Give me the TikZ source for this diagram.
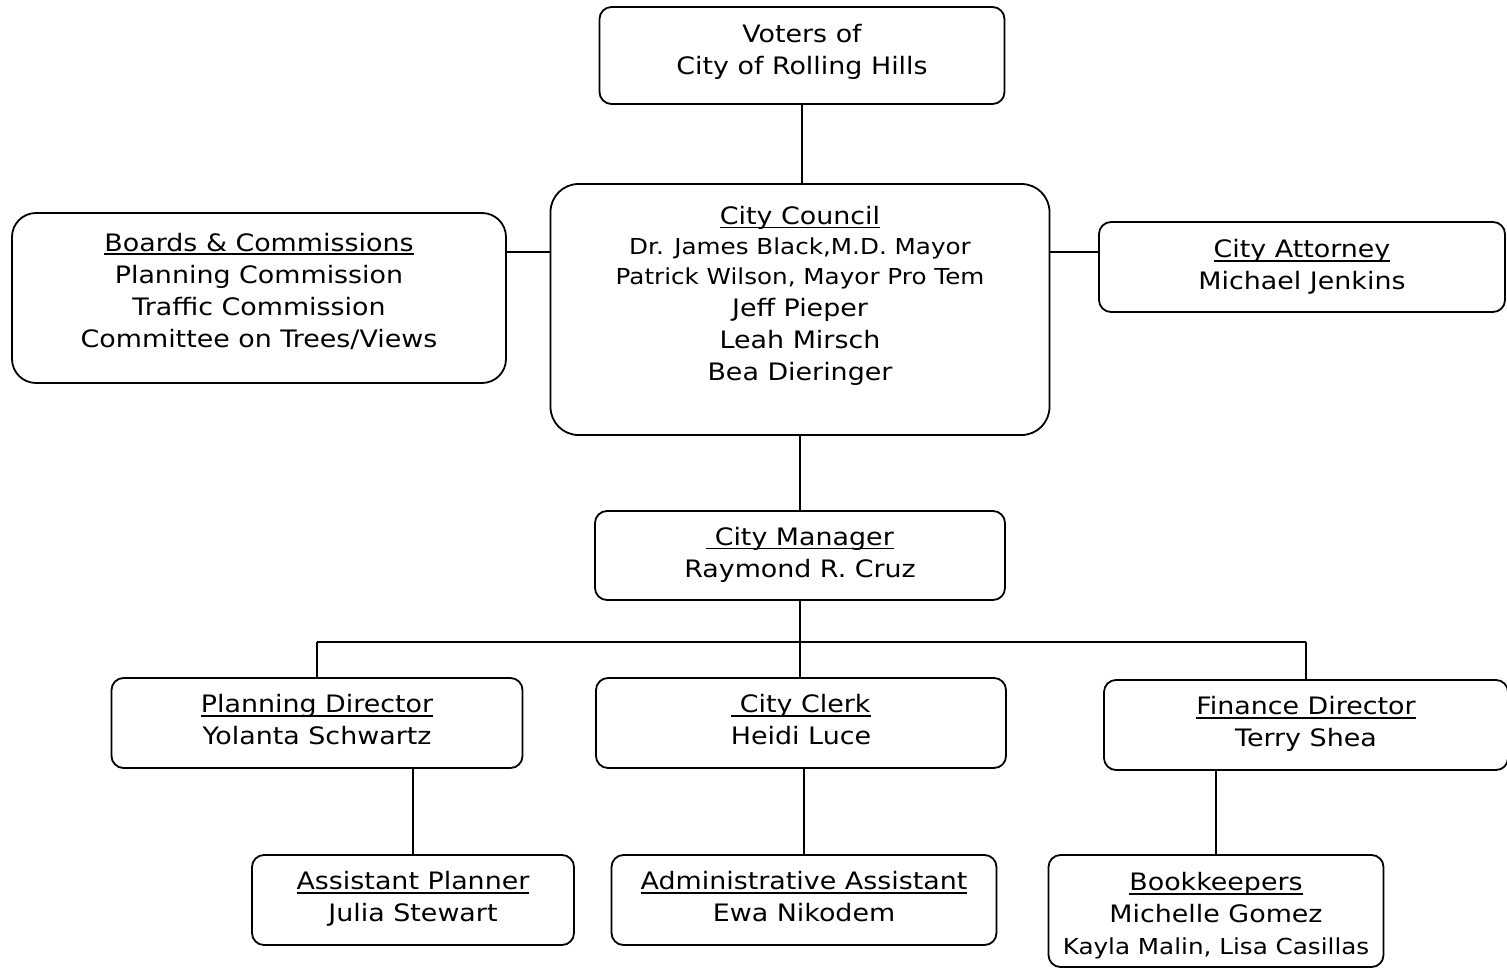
\documentclass[tikz,border=0pt]{standalone}
\usepackage{fontspec}
\setmainfont{DejaVu Sans}[FakeStretch=1.12]
\usetikzlibrary{positioning}

\newsavebox\headbox
\newcommand\headul[1]{\sbox\headbox{#1}\rlap{\rule[-4pt]{\wd\headbox}{1.6pt}}\usebox\headbox}

\begin{document}
\begin{tikzpicture}[x=1pt, y=-1pt,
    box/.style={draw, line width=1.8pt, rounded corners=12pt, inner sep=0pt},
    txt/.style={align=center, inner sep=0pt, font=\fontsize{24}{32}\selectfont},
    link/.style={line width=2.2pt}]
\useasboundingbox (0,0) rectangle (1507,969);

% boxes
\node[box, minimum width=405pt, minimum height=97pt] (voters) at (802,55.5) {};
\node[box, rounded corners=28pt, minimum width=499pt, minimum height=251pt] (council) at (800,309.5) {};
\node[box, rounded corners=24pt, minimum width=494pt, minimum height=170pt] (boards) at (259,298) {};
\node[box, minimum width=406pt, minimum height=90pt] (attorney) at (1302,267) {};
\node[box, minimum width=410pt, minimum height=89pt] (manager) at (800,555.5) {};
\node[box, minimum width=411pt, minimum height=90pt] (planning) at (317,723) {};
\node[box, minimum width=410pt, minimum height=90pt] (clerk) at (801,723) {};
\node[box, minimum width=404pt, minimum height=90pt] (finance) at (1306,725) {};
\node[box, minimum width=322pt, minimum height=90pt] (asstplanner) at (413,900) {};
\node[box, minimum width=385pt, minimum height=90pt] (adminasst) at (804,900) {};
\node[box, minimum width=335pt, minimum height=112pt] (bookkeepers) at (1216,911) {};

% texts
\node[txt] (voters-t) at ([yshift=4pt]voters.center) {Voters of\\City of Rolling Hills};
\node[txt] (council-t) at ([yshift=14pt]council.center) {\headul{City Council}\\[-2pt]
    {\fontsize{22}{30}\selectfont Dr. James Black,M.D. Mayor}\\[-2pt]
    {\fontsize{22}{30}\selectfont Patrick Wilson, Mayor Pro Tem}\\
    Jeff Pieper\\Leah Mirsch\\Bea Dieringer};
\node[txt] (boards-t) at ([yshift=7pt]boards.center) {\headul{Boards \& Commissions}\\Planning Commission\\Traffic Commission\\Committee on Trees/Views};
\node[txt] (attorney-t) at ([yshift=0pt]attorney.center) {\headul{City Attorney}\\Michael Jenkins};
\node[txt] (manager-t) at ([yshift=1pt]manager.center) {\headul{\ City Manager}\\Raymond R. Cruz};
\node[txt] (planning-t) at ([yshift=3pt]planning.center) {\headul{Planning Director}\\Yolanta Schwartz};
\node[txt] (clerk-t) at ([yshift=3pt]clerk.center) {\headul{\ City Clerk}\\Heidi Luce};
\node[txt] (finance-t) at ([yshift=1pt]finance.center) {\headul{Finance Director}\\Terry Shea};
\node[txt] (asstplanner-t) at ([yshift=1pt]asstplanner.center) {\headul{Assistant Planner}\\Julia Stewart};
\node[txt] (adminasst-t) at ([yshift=3pt]adminasst.center) {\headul{Administrative Assistant}\\Ewa Nikodem};
\node[txt] (bookkeepers-t) at ([yshift=-5pt]bookkeepers.center) {\headul{Bookkeepers}\\Michelle Gomez\\{\fontsize{22}{32}\selectfont Kayla Malin, Lisa Casillas}};

% connectors
\coordinate (side) at (0,252);
\coordinate (bus) at (0,642);
\draw[link] (voters.south) -- (voters.south |- council.north);
\draw[link] (boards.east |- side) -- (council.west |- side);
\draw[link] (council.east |- side) -- (attorney.west |- side);
\draw[link] (council.south) -- (council.south |- manager.north);
\draw[link] (manager.south) -- (manager.south |- bus);
\draw[link] (planning.north |- bus) -- (finance.north |- bus);
\draw[link] (planning.north |- bus) -- (planning.north);
\draw[link] (manager.south |- bus) -- (manager.south |- clerk.north);
\draw[link] (finance.north |- bus) -- (finance.north);
\draw[link] (planning.south -| asstplanner.north) -- (asstplanner.north);
\draw[link] (clerk.south -| adminasst.north) -- (adminasst.north);
\draw[link] (finance.south -| bookkeepers.north) -- (bookkeepers.north);
\end{tikzpicture}
\end{document}
